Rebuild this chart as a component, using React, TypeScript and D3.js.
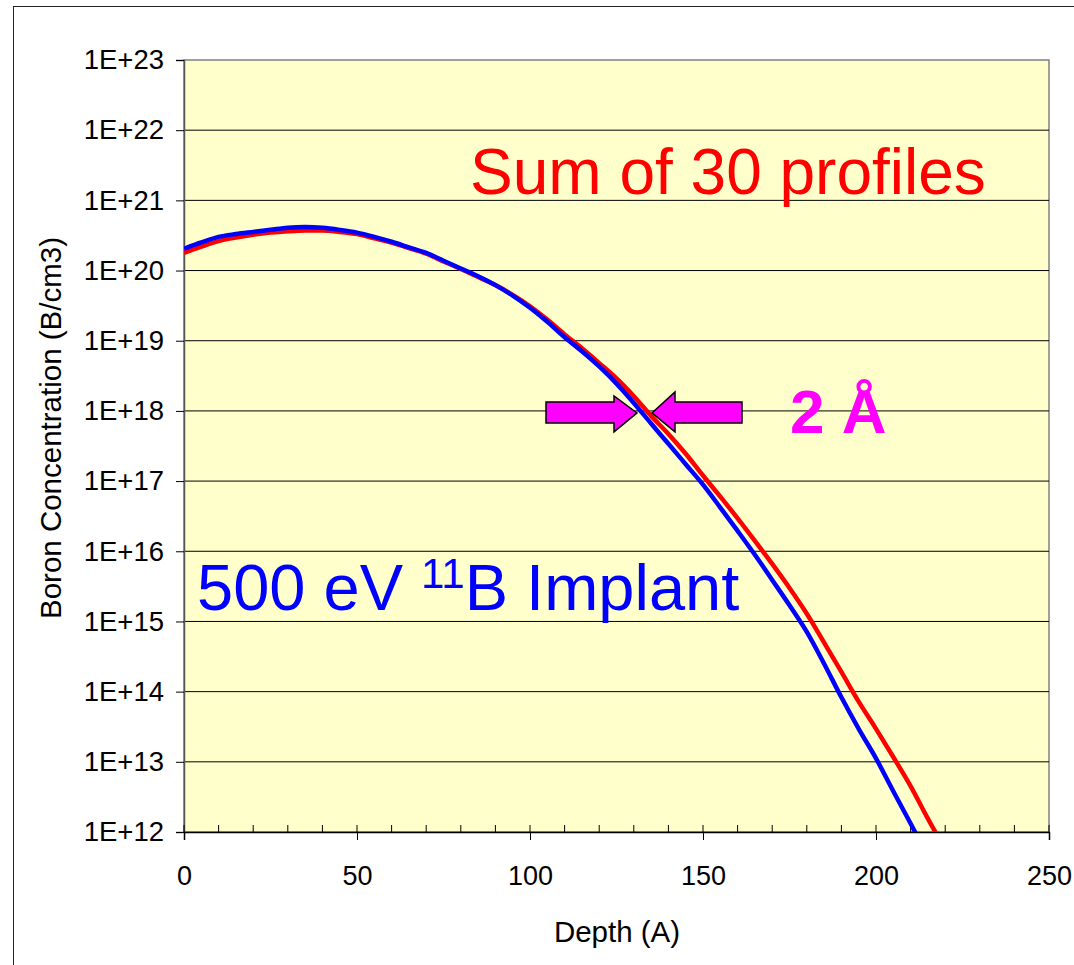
import React, { useRef, useEffect } from "react";
import * as d3 from "d3";

// depth in Angstrom
const depths = [
  0, 5, 10, 15, 20, 25, 30, 35, 40, 45, 50, 55, 60, 65, 70, 75, 80, 85, 90, 95,
  100, 105, 110, 115, 120, 125, 130, 135, 140, 145, 150, 155, 160, 165, 170,
  175, 180, 185, 190, 195, 200, 205, 210, 215, 220,
];

// sum of 30 profiles (red)
const sumProfile = [
  1.78e20, 2.19e20, 2.63e20, 2.95e20, 3.24e20, 3.47e20, 3.63e20, 3.72e20,
  3.72e20, 3.55e20, 3.31e20, 2.88e20, 2.51e20, 2.09e20, 1.74e20, 1.35e20,
  1.05e20, 8.1e19, 6.2e19, 4.5e19, 3.1e19, 2.0e19, 1.23e19, 7.8e18, 4.8e18,
  2.9e18, 1.62e18, 8.5e17, 4.7e17, 2.45e17, 1.2e17, 6.0e16, 2.95e16, 1.41e16,
  6.6e15, 3.0e15, 1.29e15, 5.0e14, 1.91e14, 7.2e13, 2.95e13, 1.17e13, 4.5e12,
  1.55e12, 5.6e11,
];

// single 500 eV profile (blue)
const implantProfile = [
  2.04e20, 2.51e20, 3.02e20, 3.31e20, 3.55e20, 3.8e20, 4.07e20, 4.17e20,
  4.07e20, 3.8e20, 3.47e20, 3.02e20, 2.57e20, 2.14e20, 1.78e20, 1.38e20,
  1.07e20, 8.3e19, 6.2e19, 4.4e19, 2.95e19, 1.86e19, 1.12e19, 7.1e18, 4.3e18,
  2.45e18, 1.3e18, 6.6e17, 3.4e17, 1.74e17, 8.9e16, 4.2e16, 1.95e16, 8.9e15,
  3.9e15, 1.7e15, 7.1e14, 2.5e14, 8.3e13, 2.95e13, 1.12e13, 3.8e12, 1.32e12,
  4.5e11, 1.6e11,
];

const xTicks = [0, 50, 100, 150, 200, 250];
const xMinor = d3.range(0, 251, 10);
const yTicks = d3.range(12, 24).map((e) => Math.pow(10, e));

const W = 1074;
const H = 965;
const FONT = "Liberation Sans, Arial, sans-serif";

const Chart = () => {
  const ref = useRef<SVGSVGElement>(null);

  useEffect(() => {
    const svg = d3.select(ref.current);
    svg.selectAll("*").remove();

    const x = d3.scaleLinear().domain([0, 250]).range([184, 1049]);
    const y = d3.scaleLog().domain([1e12, 1e23]).range([832, 60]);

    // outer frame
    svg.append("rect").attr("x", 0).attr("y", 0).attr("width", W).attr("height", H).attr("fill", "#fff");
    svg.append("rect")
      .attr("x", 13.5).attr("y", 6.5).attr("width", 1200).attr("height", 1200)
      .attr("fill", "none").attr("stroke", "#222").attr("stroke-width", 1);

    // plot area
    svg.append("rect")
      .attr("x", x(0)).attr("y", y(1e23))
      .attr("width", x(250) - x(0)).attr("height", y(1e12) - y(1e23))
      .attr("fill", "#FFFFCC").attr("stroke", "#808080").attr("stroke-width", 1.5);

    svg.append("defs").append("clipPath").attr("id", "plotclip")
      .append("rect")
      .attr("x", x(0)).attr("y", y(1e23))
      .attr("width", x(250) - x(0)).attr("height", y(1e12) - y(1e23));

    // gridlines
    svg.append("g")
      .selectAll("line")
      .data(yTicks.slice(1, -1))
      .enter()
      .append("line")
      .attr("x1", x(0)).attr("x2", x(250))
      .attr("y1", (d) => y(d)).attr("y2", (d) => y(d))
      .attr("stroke", "#000").attr("stroke-width", 1);

    // y axis
    const yAxis = svg.append("g").attr("transform", `translate(${x(0)},0)`)
      .call(
        d3.axisLeft(y).tickValues(yTicks).tickSize(8)
          .tickFormat((d) => "1E+" + Math.round(Math.log10(+d)))
      );
    yAxis.select(".domain").attr("stroke", "#555").attr("stroke-width", 1.5);
    yAxis.selectAll("text").attr("font-family", FONT).attr("font-size", 27.5).attr("fill", "#000").attr("x", -20);

    // x axis: minor ticks inside, major ticks crossing
    svg.append("g")
      .selectAll("line")
      .data(xMinor)
      .enter()
      .append("line")
      .attr("x1", (d) => x(d)).attr("x2", (d) => x(d))
      .attr("y1", y(1e12) - 7).attr("y2", y(1e12))
      .attr("stroke", "#000");

    const xAxis = svg.append("g").attr("transform", `translate(0,${y(1e12)})`)
      .call(d3.axisBottom(x).tickValues(xTicks).tickSize(8).tickFormat(d3.format("d")));
    xAxis.select(".domain").attr("stroke", "#000").attr("stroke-width", 1.5);
    xAxis.selectAll("text").attr("font-family", FONT).attr("font-size", 27).attr("fill", "#000").attr("dy", "1.55em");

    // curves
    const line = d3.line<number>()
      .x((d, i) => x(depths[i]))
      .y((d) => y(d))
      .curve(d3.curveMonotoneX);

    const curves = svg.append("g").attr("clip-path", "url(#plotclip)");
    curves.append("path").datum(sumProfile)
      .attr("d", line).attr("fill", "none")
      .attr("stroke", "#FF0000").attr("stroke-width", 4.5).attr("stroke-linejoin", "round");
    curves.append("path").datum(implantProfile)
      .attr("d", line).attr("fill", "none")
      .attr("stroke", "#0000FF").attr("stroke-width", 4.5).attr("stroke-linejoin", "round");

    // axis titles
    svg.append("text")
      .attr("x", 617).attr("y", 942).attr("text-anchor", "middle")
      .attr("font-family", FONT).attr("font-size", 29.5).text("Depth (A)");
    svg.append("text")
      .attr("transform", "translate(61,428) rotate(-90)").attr("text-anchor", "middle")
      .attr("font-family", FONT).attr("font-size", 29.5).text("Boron Concentration (B/cm3)");

    // annotations
    svg.append("text")
      .attr("x", 470).attr("y", 194)
      .attr("font-family", FONT).attr("font-size", 64).attr("fill", "#FF0000")
      .text("Sum of 30 profiles");

    const impl = svg.append("text")
      .attr("x", 197).attr("y", 610)
      .attr("font-family", FONT).attr("font-size", 65).attr("fill", "#0000FF");
    impl.append("tspan").text("500 eV ");
    impl.append("tspan").attr("font-size", 42).attr("dy", -22).text("11");
    impl.append("tspan").attr("dy", 22).text("B Implant");

    svg.append("text")
      .attr("x", 790).attr("y", 433)
      .attr("font-family", FONT).attr("font-size", 62).attr("font-weight", "bold").attr("fill", "#FF00FF")
      .text("2 Å");

    // arrows around 1E+18 crossing
    const yc = y(1e18) + 2;
    const arrowR: [number, number][] = [
      [546, yc - 11], [614, yc - 11], [614, yc - 17], [637, yc], [614, yc + 19], [614, yc + 10], [546, yc + 10],
    ];
    const arrowL: [number, number][] = [
      [742, yc - 11], [675, yc - 11], [675, yc - 21], [652, yc], [675, yc + 19], [675, yc + 10], [742, yc + 10],
    ];
    svg.selectAll("polygon.arrow")
      .data([arrowR, arrowL])
      .enter()
      .append("polygon")
      .attr("points", (d) => d.map((p) => p.join(",")).join(" "))
      .attr("fill", "#FF00FF").attr("stroke", "#000").attr("stroke-width", 1.5);
  }, []);

  return <svg ref={ref} width={W} height={H} style={{ display: "block" }} />;
};

export default function App() {
  return (
    <div style={{ position: "absolute", left: 0, top: 0 }}>
      <Chart />
    </div>
  );
}
